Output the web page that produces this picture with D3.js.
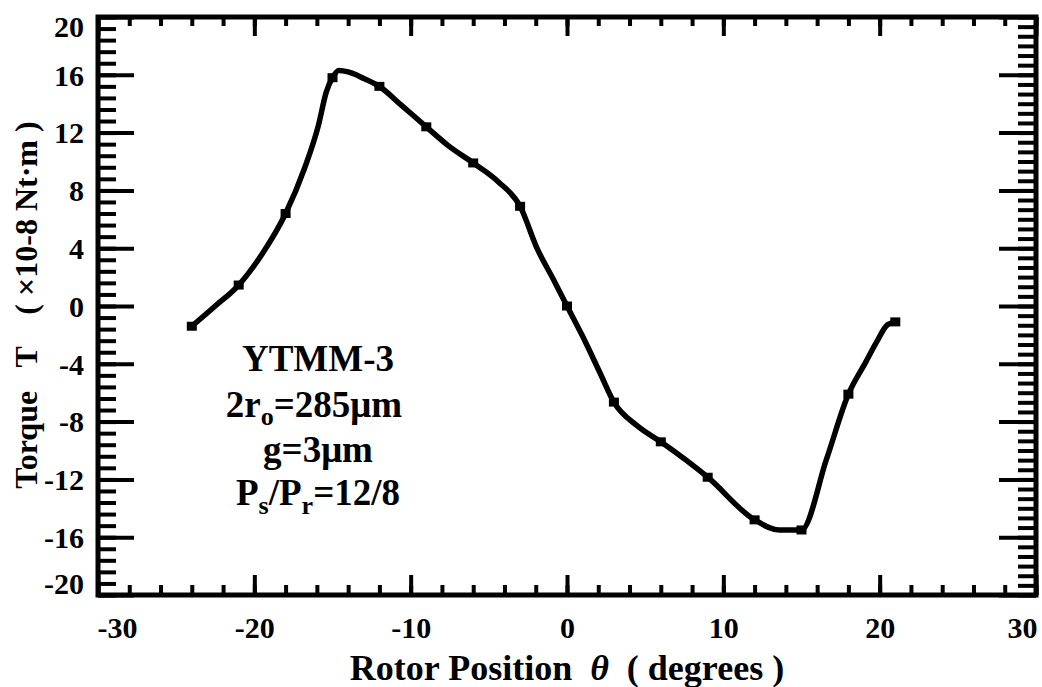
<!DOCTYPE html>
<html>
<head>
<meta charset="utf-8">
<script src="https://cdn.jsdelivr.net/npm/d3@7"></script>
<style>
  html, body { margin: 0; padding: 0; background: #fff; }
  svg { display: block; }
  text { font-family: "Liberation Serif", "Times New Roman", serif; font-weight: bold; fill: #000; }
</style>
</head>
<body>
<svg id="chart" width="1042" height="687"></svg>
<script>
// Measured rotor positions (degrees) and torque (x10^-8 Nt·m) at the marked points
const thetaDeg = [-24, -21, -18, -15, -12, -9, -6, -3, 0, 3, 6, 9, 12, 15, 18, 21];
const torque   = [-1.4, 1.45, 6.4, 15.8, 15.2, 12.4, 9.9, 6.9, 0, -6.65, -9.4, -11.85, -14.8, -15.5, -6.1, -1.1];

// Smoothed torque curve through the measurements
const curveTheta  = [-24, -22.5, -21, -19.5, -18, -16.8, -15.9, -15.4, -15, -14.6, -14, -13, -12, -10.6, -9, -7.6, -6, -4.4, -3, -1.9, -0.9, 0, 1, 2.1, 3, 4.5, 6, 9, 12, 13.6, 15, 16.6, 18, 19.1, 19.8, 20.5, 21];
const curveTorque = [-1.4, 0.0, 1.45, 3.6, 6.4, 9.5, 12.5, 14.8, 15.8, 16.3, 16.2, 15.75, 15.2, 13.9, 12.4, 11.1, 9.9, 8.6, 6.9, 3.95, 1.9, 0, -2.1, -4.6, -6.65, -8.3, -9.4, -11.85, -14.8, -15.5, -15.5, -10.6, -6.1, -3.9, -2.5, -1.3, -1.1];

// Axis tick labels
const xTicks = [-30, -20, -10, 0, 10, 20, 30];
const yTicks = [-20, -16, -12, -8, -4, 0, 4, 8, 12, 16, 20];

const svg = d3.select("#chart");
const pL = 98, pR = 1036, pT = 17, pB = 595;

const x = d3.scaleLinear().domain([-30, 30]).range([pL, pR]);
const y = d3.scaleLinear().domain([-20, 20]).range([pB, pT]);

const xMinor = d3.range(-30, 30.01, 2);
const yMinorL = d3.range(-20, 20.01, 0.8);
const yMinorR = d3.range(-20, 20.01, 2 / 3);

function tickGroup(axis, tx, ty) {
  const g = svg.append("g").attr("transform", `translate(${tx},${ty})`).call(axis);
  g.select(".domain").remove();
  g.selectAll(".tick line").attr("stroke", "#000").attr("stroke-width", 4).attr("stroke-linecap", "butt");
  return g;
}

// inward-pointing minor and major ticks on all four sides
tickGroup(d3.axisBottom(x).tickValues(xMinor).tickSize(-10).tickFormat(""), 0, pB);
tickGroup(d3.axisBottom(x).tickValues(xTicks).tickSize(-20).tickFormat(""), 0, pB);
tickGroup(d3.axisTop(x).tickValues(xMinor).tickSize(-9).tickFormat(""), 0, pT);
tickGroup(d3.axisTop(x).tickValues(xTicks).tickSize(-19).tickFormat(""), 0, pT);
tickGroup(d3.axisLeft(y).tickValues(yMinorL).tickSize(-18).tickFormat(""), pL, 0);
tickGroup(d3.axisLeft(y).tickValues(yTicks).tickSize(-36).tickFormat(""), pL, 0);
tickGroup(d3.axisRight(y).tickValues(yMinorR).tickSize(-18).tickFormat(""), pR, 0);
tickGroup(d3.axisRight(y).tickValues(yTicks).tickSize(-37).tickFormat(""), pR, 0);

// frame
svg.append("rect")
  .attr("x", pL).attr("y", pT)
  .attr("width", pR - pL).attr("height", pB - pT)
  .attr("fill", "none").attr("stroke", "#000").attr("stroke-width", 5);

// tick labels
const xl = svg.append("g").attr("transform", `translate(0,${pB})`)
  .call(d3.axisBottom(x).tickValues(xTicks).tickSize(0).tickPadding(0).tickFormat(d => String(d)));
xl.select(".domain").remove();
xl.selectAll(".tick text")
  .attr("font-size", 30).attr("dy", null).attr("y", 43)
  .attr("dx", d => d === -30 ? 19 : d === 30 ? -14 : 0);

const yl = svg.append("g").attr("transform", `translate(${pL},0)`)
  .call(d3.axisLeft(y).tickValues(yTicks).tickSize(0).tickPadding(0).tickFormat(d => String(d)));
yl.select(".domain").remove();
yl.selectAll(".tick text")
  .attr("font-size", 30).attr("x", -14).attr("dy", "0.34em")
  .attr("transform", d => d === 20 ? "translate(0,9)" : d === -20 ? "translate(0,-12)" : null);

// axis titles
const xt = svg.append("text")
  .attr("x", 567).attr("y", 680).attr("text-anchor", "middle")
  .attr("font-size", 36).style("white-space", "pre");
xt.append("tspan").text("Rotor Position  ");
xt.append("tspan").attr("font-style", "italic").text("θ");
xt.append("tspan").text("  ( degrees )");

svg.append("text")
  .attr("transform", "translate(37,305) rotate(-90)")
  .attr("text-anchor", "middle").attr("font-size", 32).style("white-space", "pre")
  .text("Torque   T    ( ×10-8 Nt·m )");

// annotation
const ann = svg.append("g").attr("font-size", 37);
const cx = 318;
ann.append("text").attr("x", cx).attr("y", 371).attr("text-anchor", "middle").text("YTMM-3");
const l2 = ann.append("text").attr("x", cx - 4).attr("y", 417).attr("text-anchor", "middle");
l2.append("tspan").text("2r");
l2.append("tspan").attr("font-size", 26).attr("dy", 8).text("o");
l2.append("tspan").attr("dy", -8).text("=285μm");
ann.append("text").attr("x", cx).attr("y", 462).attr("text-anchor", "middle").text("g=3μm");
const l4 = ann.append("text").attr("x", cx).attr("y", 505).attr("text-anchor", "middle");
l4.append("tspan").text("P");
l4.append("tspan").attr("font-size", 26).attr("dy", 9).text("s");
l4.append("tspan").attr("dy", -9).text("/P");
l4.append("tspan").attr("font-size", 26).attr("dy", 9).text("r");
l4.append("tspan").attr("dy", -9).text("=12/8");

// torque curve
const pts = curveTheta.map((t, i) => [t, curveTorque[i]]);
svg.append("path")
  .datum(pts)
  .attr("fill", "none").attr("stroke", "#000").attr("stroke-width", 5.5)
  .attr("stroke-linejoin", "round").attr("stroke-linecap", "round")
  .attr("d", d3.line().x(d => x(d[0])).y(d => y(d[1])).curve(d3.curveMonotoneX));

// measurement markers
svg.append("g").selectAll("rect")
  .data(thetaDeg.map((t, i) => [t, torque[i]]))
  .join("rect")
  .attr("x", d => x(d[0]) - 5).attr("y", d => y(d[1]) - 4.5)
  .attr("width", 10).attr("height", 9).attr("fill", "#000");
</script>
</body>
</html>
